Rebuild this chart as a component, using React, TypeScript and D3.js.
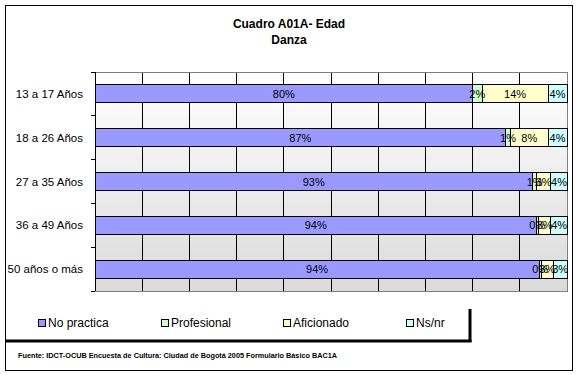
import React from "react";
import * as d3 from "d3";

const categories = ["13 a 17 Años", "18 a 26 Años", "27 a 35 Años", "36 a 49 Años", "50 años o más"];
const seriesNames = ["No practica", "Profesional", "Aficionado", "Ns/nr"];
const noPractica = [80, 87, 92.7, 93.5, 94.1];
const profesional = [2, 1, 0.9, 0.4, 0.4];
const aficionado = [14, 8, 2.9, 2.7, 2.6];
const nsnr = [4, 4, 3.6, 3.5, 2.9];
const seriesColors = ["#9999FF", "#CCFFCC", "#FFFFCC", "#CCFFFF"];
const xTicks = [0, 10, 20, 30, 40, 50, 60, 70, 80, 90, 100];
const titleLines = ["Cuadro A01A- Edad", "Danza"];
const sourceText = "Fuente: IDCT-OCUB Encuesta de Cultura: Ciudad de Bogotá 2005 Formulario Básico BAC1A";

export default function App() {
  const W = 579, H = 374;
  const left = 95, right = 567, top = 72, bottom = 291;
  const x = d3.scaleLinear().domain([0, 100]).range([left, right]);
  const y = d3.scaleBand().domain(categories).range([top, bottom]).paddingInner(0.59).paddingOuter(0.295);
  const series = [noPractica, profesional, aficionado, nsnr];
  const font = "'Liberation Sans', Arial, sans-serif";

  const bars: any[] = [];
  categories.forEach((c, i) => {
    let acc = 0;
    series.forEach((s, j) => {
      const v = s[i];
      bars.push({ c, j, x0: acc, x1: acc + v, v });
      acc += v;
    });
  });

  const legendX = [38, 161, 283, 406];

  return (
    <svg width={W} height={H} style={{ position: "absolute", left: 0, top: 0, background: "#fff" }}>
      <defs>
        <linearGradient id="bg" x1="0" y1="0" x2="0" y2="1">
          <stop offset="0" stopColor="#ffffff" />
          <stop offset="1" stopColor="#dadada" />
        </linearGradient>
      </defs>
      <rect x={5.5} y={5.5} width={567} height={365} fill="#fff" stroke="#000" strokeWidth={1} />
      <g fontFamily={font} fontSize={12} fontWeight="bold" textAnchor="middle" fill="#000">
        <text x={289} y={28}>{titleLines[0]}</text>
        <text x={289} y={44}>{titleLines[1]}</text>
      </g>
      <rect x={left} y={top} width={right - left} height={bottom - top} fill="url(#bg)" />
      {xTicks.slice(1, -1).map((t) => (
        <line key={t} x1={x(t)} x2={x(t)} y1={top} y2={bottom} stroke="#000" strokeWidth={1} shapeRendering="crispEdges" />
      ))}
      <rect x={left} y={top} width={right - left} height={bottom - top} fill="none" stroke="#808080" strokeWidth={1} shapeRendering="crispEdges" />
      <line x1={left} x2={left} y1={top} y2={bottom} stroke="#000" shapeRendering="crispEdges" />
      {d3.range(categories.length + 1).map((i) => {
        const yy = top + (i * (bottom - top)) / categories.length;
        return <line key={i} x1={left - 4} x2={left} y1={yy} y2={yy} stroke="#000" shapeRendering="crispEdges" />;
      })}
      {bars.map((b, k) => (
        <rect key={k} x={x(b.x0)} y={y(b.c)} width={x(b.x1) - x(b.x0)} height={y.bandwidth()} fill={seriesColors[b.j]} stroke="#000" strokeWidth={1} shapeRendering="crispEdges" />
      ))}
      <g fontFamily={font} fontSize={11} textAnchor="middle" fill="#000">
        {bars.map((b, k) => (
          <text key={k} x={(x(b.x0) + x(b.x1)) / 2} y={(y(b.c) as number) + y.bandwidth() / 2 + 4}>
            {Math.round(b.v) + "%"}
          </text>
        ))}
      </g>
      <g fontFamily={font} fontSize={11.5} textAnchor="end" fill="#000">
        {categories.map((c) => (
          <text key={c} x={83} y={(y(c) as number) + y.bandwidth() / 2 + 4}>{c}</text>
        ))}
      </g>
      <line x1={470} x2={470} y1={309} y2={342} stroke="#000" strokeWidth={3} />
      <line x1={5} x2={471.5} y1={341} y2={341} stroke="#000" strokeWidth={3} />
      {seriesNames.map((n, i) => (
        <g key={n}>
          <rect x={legendX[i] + 0.5} y={319.5} width={7} height={7} fill={seriesColors[i]} stroke="#000" />
          <text x={legendX[i] + 10} y={327} fontFamily={font} fontSize={12} fill="#000">{n}</text>
        </g>
      ))}
      <text x={18} y={358} fontFamily={font} fontSize={8} fontWeight="bold" fill="#000" textLength={319} lengthAdjust="spacingAndGlyphs">{sourceText}</text>
    </svg>
  );
}
